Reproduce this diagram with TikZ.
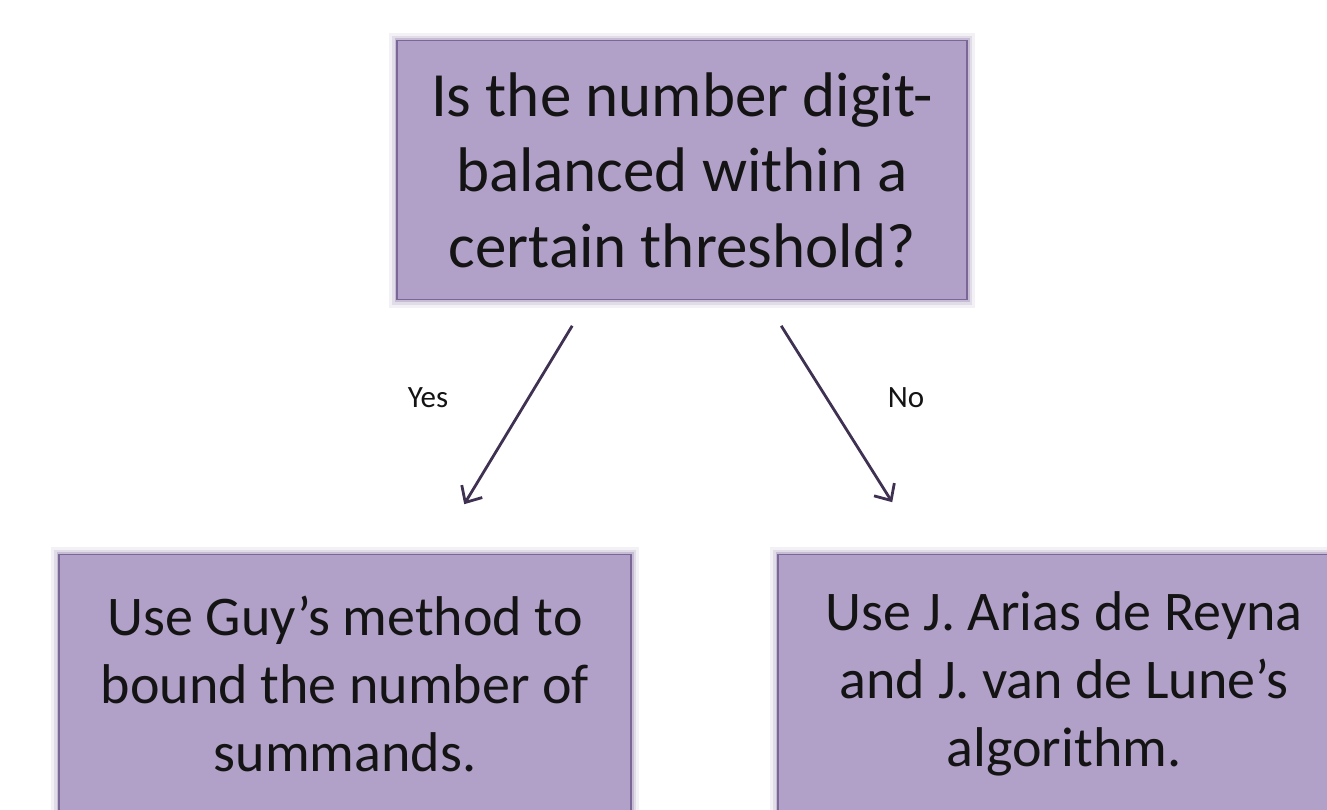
\documentclass[tikz,border=0pt]{standalone}
\usepackage{fontspec}
\setmainfont{Carlito}
\usetikzlibrary{arrows.meta}
\definecolor{boxfill}{HTML}{B1A0C7}
\definecolor{boxline}{HTML}{7A6798}
\definecolor{glowc}{HTML}{8A78A8}
\definecolor{arrowc}{HTML}{3F3152}
\tikzset{
  box/.style={draw=boxline, line width=1.6pt, fill=boxfill, align=center,
    inner sep=0pt, text=black!92,
    preaction={draw=glowc, line width=16pt, draw opacity=0.10},
    preaction={draw=glowc, line width=10pt, draw opacity=0.18},
    preaction={draw=glowc, line width=5pt, draw opacity=0.30}},
  topbox/.style={box, minimum width=570pt, minimum height=259pt,
    font=\fontsize{63}{75.5}\selectfont},
  lowbox/.style={box, minimum width=572pt, minimum height=259pt,
    font=\fontsize{56}{68}\selectfont},
  conn/.style={draw=arrowc, line width=2.8pt,
    -{Straight Barb[length=13pt,width=24pt,line width=2.8pt]}},
  lbl/.style={font=\fontsize{31}{37}\selectfont, text=black!92, inner sep=0pt}
}
\begin{document}
\begin{tikzpicture}[x=1pt,y=-1pt]
\useasboundingbox (0,0) rectangle (1327,809);
\clip (0,0) rectangle (1327,809);
\node[topbox] (top) at (682,170) {Is the number digit-\\balanced within a\\certain threshold?};
\node[lowbox] (left) at (345,684) {Use Guy’s method to\\bound the number of\\summands.};
\node[lowbox] (right) at (1064,684) {Use J. Arias de Reyna\\and J. van de Lune’s\\algorithm.};
\coordinate (yesA) at ([xshift=176pt,yshift=-25.5pt]top.south west);
\coordinate (yesB) at ([xshift=406pt,yshift=49.5pt]left.north west);
\coordinate (noA) at ([xshift=385pt,yshift=-25.5pt]top.south west);
\coordinate (noB) at ([xshift=115pt,yshift=51.5pt]right.north west);
\draw[conn] (yesA) -- (yesB);
\draw[conn] (noA) -- (noB);
\node[lbl] (yes) at (428,398) {Yes};
\node[lbl] (no) at (906,398) {No};
\end{tikzpicture}
\end{document}
